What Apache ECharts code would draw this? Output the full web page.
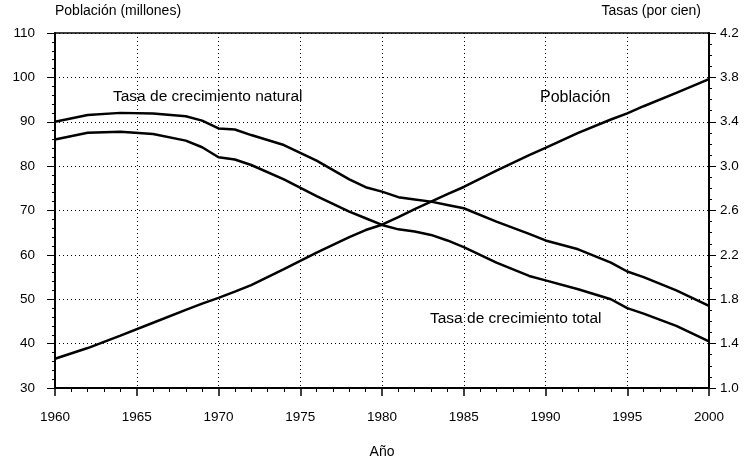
<!DOCTYPE html>
<html>
<head>
<meta charset="utf-8">
<script src="https://cdn.jsdelivr.net/npm/echarts@6/dist/echarts.min.js"></script>
<style>
    html, body { margin: 0; padding: 0; background: #fff; }
    #main { width: 752px; height: 464px; }
</style>
</head>
<body>
<div id="main"></div>
<script>
//--------------------数据---------------------------
var years = [1960, 1962, 1964, 1966, 1968, 1969, 1970, 1971, 1972, 1974, 1976, 1978, 1979, 1980,
    1981, 1982, 1983, 1984, 1985, 1987, 1989, 1990, 1992, 1994, 1995, 1996, 1998, 2000];
var poblacion = [36.6, 39.0, 41.8, 44.7, 47.6, 49.0, 50.3, 51.7, 53.2, 56.8, 60.5, 64.0, 65.6, 66.8,
    68.5, 70.3, 72.0, 73.7, 75.3, 79.0, 82.5, 84.1, 87.5, 90.5, 91.9, 93.5, 96.5, 99.6];      //millones
var tasaNatural = [3.40, 3.46, 3.48, 3.475, 3.45, 3.41, 3.34, 3.33, 3.28, 3.19, 3.05, 2.88, 2.81, 2.77,
    2.72, 2.70, 2.68, 2.65, 2.62, 2.50, 2.39, 2.33, 2.25, 2.13, 2.05, 2.00, 1.88, 1.74];      //por cien
var tasaTotal = [3.24, 3.30, 3.31, 3.29, 3.23, 3.17, 3.08, 3.06, 3.01, 2.88, 2.73, 2.59, 2.53, 2.47,
    2.43, 2.41, 2.38, 2.33, 2.27, 2.13, 2.01, 1.97, 1.89, 1.80, 1.72, 1.67, 1.56, 1.42];      //por cien
var xTicks = [1960, 1965, 1970, 1975, 1980, 1985, 1990, 1995, 2000];
var leftTicks = [30, 40, 50, 60, 70, 80, 90, 100, 110];
var rightTicks = [1.0, 1.4, 1.8, 2.2, 2.6, 3.0, 3.4, 3.8, 4.2];
//--------------------数据---------------------------

function pairs(ys){
    var out = [];
    for (var i = 0; i < years.length; i++) {
        out.push([years[i], ys[i]]);
    }
    return out;
}

var font = "'Liberation Sans', sans-serif";
var myChart = echarts.init(document.getElementById('main'));

var lineStyle = { color: '#000', width: 2.5 };
var dotted = { show: true, lineStyle: { color: '#000', width: 1, type: [1, 3] } };

option = {
    animation: false,
    backgroundColor: '#fff',
    textStyle: { fontFamily: font, color: '#000' },
    grid: {
        left: 55,
        right: 43,
        top: 33,
        bottom: 69,
        show: true,
        borderColor: '#000',
        borderWidth: 1.5
    },
    xAxis: {
        type: 'value',
        min: xTicks[0],
        max: xTicks[xTicks.length - 1],
        interval: 5,
        name: 'Año',
        nameLocation: 'middle',
        nameGap: 57,
        nameTextStyle: { fontSize: 14, color: '#000', fontFamily: font },
        axisLine: { lineStyle: { color: '#000', width: 2 } },
        axisTick: { length: 8, lineStyle: { color: '#000', width: 1.5 } },
        minorTick: { show: true, splitNumber: 5, length: 4, lineStyle: { color: '#000' } },
        axisLabel: { margin: 22, fontSize: 13.5, color: '#000', fontFamily: font,
            formatter: function(v){ return String(v); } },
        splitLine: dotted
    },
    yAxis: [
        {
            type: 'value',
            min: leftTicks[0],
            max: leftTicks[leftTicks.length - 1],
            interval: 10,
            name: 'Población (millones)',
            nameLocation: 'end',
            nameGap: 15,
            nameTextStyle: { fontSize: 14, color: '#000', align: 'left', fontFamily: font },
            axisLine: { show: true, lineStyle: { color: '#000', width: 2 } },
            axisTick: { show: true, length: 8, lineStyle: { color: '#000' } },
            minorTick: { show: true, splitNumber: 5, length: 3, lineStyle: { color: '#000' } },
            axisLabel: { margin: 20, fontSize: 13.5, color: '#000', fontFamily: font },
            splitLine: dotted
        },
        {
            type: 'value',
            min: rightTicks[0],
            max: rightTicks[rightTicks.length - 1],
            interval: 0.4,
            name: 'Tasas (por cien)',
            nameLocation: 'end',
            nameGap: 15,
            nameTextStyle: { fontSize: 14, color: '#000', align: 'right', padding: [0, 8, 0, 0], fontFamily: font },
            axisLine: { show: true, lineStyle: { color: '#000', width: 2 } },
            axisTick: { show: true, length: 7, lineStyle: { color: '#000' } },
            minorTick: { show: true, splitNumber: 4, length: 3, lineStyle: { color: '#000' } },
            axisLabel: { margin: 11, fontSize: 13.5, color: '#000', fontFamily: font,
                formatter: function(v){ return v.toFixed(1); } },
            splitLine: { show: false }
        }
    ],
    graphic: [
        { type: 'text', left: 113, top: 89,
          style: { text: 'Tasa de crecimiento natural', fontSize: 15.5, fill: '#000', fontFamily: font } },
        { type: 'text', left: 540, top: 90,
          style: { text: 'Población', fontSize: 16, fill: '#000', fontFamily: font } },
        { type: 'text', left: 430, top: 311,
          style: { text: 'Tasa de crecimiento total', fontSize: 15.5, fill: '#000', fontFamily: font } }
    ],
    series: [
        {
            name: 'Población',
            type: 'line',
            yAxisIndex: 0,
            data: pairs(poblacion),
            showSymbol: false,
            lineStyle: lineStyle
        },
        {
            name: 'Tasa de crecimiento natural',
            type: 'line',
            yAxisIndex: 1,
            data: pairs(tasaNatural),
            showSymbol: false,
            lineStyle: lineStyle
        },
        {
            name: 'Tasa de crecimiento total',
            type: 'line',
            yAxisIndex: 1,
            data: pairs(tasaTotal),
            showSymbol: false,
            lineStyle: lineStyle
        }
    ]
};
myChart.setOption(option);
</script>
</body>
</html>
